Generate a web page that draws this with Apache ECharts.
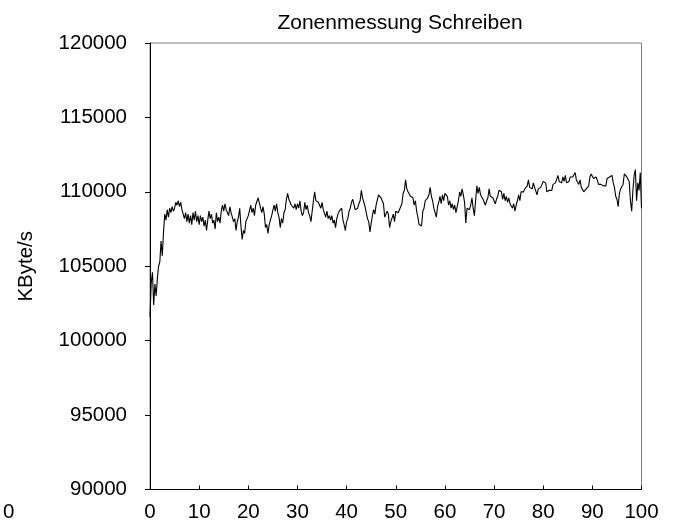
<!DOCTYPE html>
<html>
<head>
<meta charset="utf-8">
<script src="https://cdn.jsdelivr.net/npm/echarts@6/dist/echarts.min.js"></script>
<style>
html, body { margin: 0; padding: 0; background: #fff; }
#chart { width: 675px; height: 527px; }
</style>
</head>
<body>
<div id="chart"></div>
<script>
// Messpunkte alle 0.25 % der Plattenposition
var step = 0.25;
var rates = [
	101600, 103900, 104600, 102400, 103800, 103000, 104200, 105000, 105300, 106700, 105700, 107300, 108500, 108100, 108800, 108300, 108900, 108600, 109000, 108700,
	108900, 109300, 109100, 109400, 109000, 109300, 108800, 108700, 108200, 108600, 108000, 108500, 107900, 108400, 107800, 108600, 108100, 108700, 108000, 108400,
	107800, 108400, 108000, 108300, 107700, 108100, 107400, 108100, 108700, 108200, 108500, 107900, 108100, 107500, 108600, 108000, 108300, 107900, 108700, 109100,
	108700, 109200, 108800, 108900, 108400, 109000, 108600, 108700, 108000, 108200, 107400, 108000, 108300, 108900, 107700, 106800, 107400, 107200, 108000, 107900,
	108400, 108300, 109100, 108600, 108900, 108400, 109100, 109200, 109600, 109700, 108900, 108600, 109000, 108500, 107600, 107800, 107200, 107800, 107900, 108400,
	108500, 109100, 108700, 109200, 108600, 108300, 107600, 108200, 107900, 108600, 108800, 109500, 109900, 109500, 109300, 109100, 109000, 108900, 109200, 108800,
	109200, 108900, 109400, 108700, 108400, 108600, 109300, 108800, 109100, 108600, 108400, 108000, 108700, 109400, 110000, 109400, 109500, 109300, 109400, 108900,
	109300, 108800, 108800, 108300, 108700, 108200, 108400, 108100, 108400, 107900, 108100, 107600, 108200, 108500, 108700, 108600, 108900, 108100, 107800, 107400,
	108000, 108200, 108700, 108900, 109300, 109500, 109500, 108800, 108900, 108900, 109200, 109400, 110100, 109600, 109500, 109000, 108900, 108200, 108000, 107300,
	107900, 108400, 108800, 108500, 109100, 109200, 109800, 109800, 109600, 109600, 109200, 108300, 108500, 108700, 108500, 107600, 108000, 108100, 108500, 108000,
	108700, 108700, 108600, 108800, 108900, 109200, 109900, 110100, 110800, 110200, 110000, 109900, 109700, 109700, 109600, 109100, 109400, 108700, 108300, 107800,
	107700, 107700, 108700, 108900, 109400, 109500, 109600, 109800, 110300, 109700, 109400, 108900, 108800, 108300, 109000, 109300, 109700, 109200, 109800, 109400,
	109900, 109800, 109700, 109100, 109400, 108900, 109200, 108800, 109100, 108600, 109000, 109400, 110000, 109700, 110200, 109800, 109300, 107900, 108900, 108900,
	108800, 109100, 109600, 108900, 108400, 109400, 110400, 109900, 110300, 109800, 109900, 109500, 109600, 109100, 109400, 109600, 110200, 109700, 109700, 109600,
	109600, 109200, 109500, 109700, 110100, 110200, 110000, 109500, 109900, 109400, 109700, 109300, 109600, 109200, 109300, 108900, 109200, 108700, 109100, 109400,
	109800, 109400, 110000, 110000, 110000, 110200, 110300, 110400, 110800, 110300, 110200, 110200, 110600, 110300, 110300, 109800, 110200, 110300, 110300, 110300,
	110700, 110700, 110600, 110000, 110000, 110100, 110100, 110100, 110500, 110500, 110600, 110700, 111100, 110700, 110700, 110600, 111000, 110700, 111100, 110600,
	110700, 110700, 111000, 111000, 111000, 110900, 111300, 110800, 110900, 110500, 110800, 110300, 110400, 110000, 110100, 110200, 110300, 110400, 111000, 111200,
	111200, 110900, 111000, 111000, 110800, 110500, 110500, 110500, 110400, 110400, 110300, 110400, 110900, 110900, 111000, 111100, 111100, 110600, 110300, 109700,
	109500, 109000, 109900, 110200, 110300, 110500, 111200, 111200, 111000, 110900, 110700, 109400, 108700, 110100, 111100, 111500, 109400, 110600, 110100, 111300,
	108900
];
var yTicks = [90000, 95000, 100000, 105000, 110000, 115000, 120000];
var xTicks = [0, 10, 20, 30, 40, 50, 60, 70, 80, 90, 100];

var points = rates.map(function(v, i) { return [i * step, v]; });
var font = 'Liberation Sans, Arial, Helvetica, sans-serif';

var chart = echarts.init(document.getElementById('chart'));
chart.setOption({
	animation: false,
	title: {
		text: 'Zonenmessung Schreiben',
		left: 395,
		top: 8,
		textAlign: 'center',
		textStyle: { fontFamily: font, fontSize: 21, fontWeight: 'normal', color: '#000' }
	},
	grid: {
		left: 150, right: 33.5, top: 43, bottom: 37.5,
		show: true, borderColor: '#808080', borderWidth: 1
	},
	xAxis: {
		type: 'value',
		min: xTicks[0], max: xTicks[xTicks.length - 1], interval: 10,
		axisLine: { lineStyle: { color: '#000', width: 1 } },
		axisTick: { inside: true, length: 4, lineStyle: { color: '#000' } },
		axisLabel: { margin: 12, fontFamily: font, fontSize: 20.5, color: '#000' },
		splitLine: { show: false }
	},
	yAxis: {
		type: 'value',
		name: 'KByte/s',
		nameLocation: 'middle',
		nameGap: 113,
		nameTextStyle: { fontFamily: font, fontSize: 20.5, color: '#000' },
		min: yTicks[0], max: yTicks[yTicks.length - 1], interval: 5000,
		axisLine: { show: true, lineStyle: { color: '#000', width: 1 } },
		axisTick: { show: true, inside: false, length: 5, lineStyle: { color: '#000' } },
		axisLabel: {
			margin: 23, fontFamily: font, fontSize: 20.5, color: '#000',
			formatter: function(v) { return String(v); }
		},
		splitLine: { show: false }
	},
	graphic: [
		{ type: 'text', left: 3, top: 502, style: { text: '0', font: '20.5px ' + font, fill: '#000' } }
	],
	series: [
		{
			type: 'line',
			data: points,
			showSymbol: false,
			lineStyle: { color: '#000', width: 1.1 }
		}
	]
});
</script>
</body>
</html>
